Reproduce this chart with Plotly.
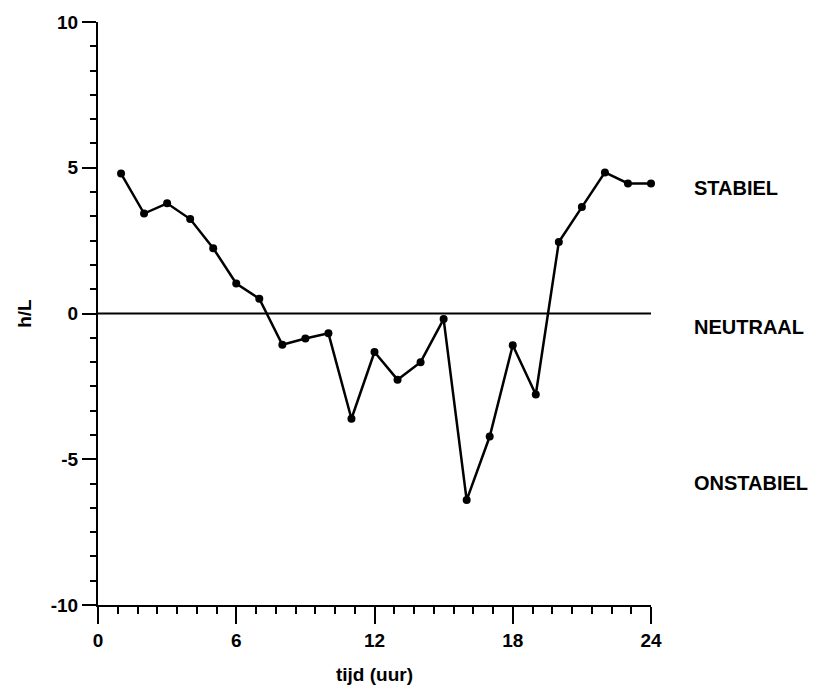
import plotly.graph_objects as go

# Hourly stability parameter h/L over one day
hours = list(range(1, 25))
h_over_l = [4.8, 3.43, 3.78, 3.24, 2.24, 1.03, 0.51, -1.07, -0.86, -0.68,
            -3.61, -1.32, -2.27, -1.67, -0.19, -6.4, -4.22, -1.09, -2.78,
            2.45, 3.65, 4.84, 4.46, 4.46]

# Neutral reference line
neutral_x = [0, 24]
neutral_y = [0, 0]

# Stability class labels on the right
class_labels = ["STABIEL", "NEUTRAAL", "ONSTABIEL"]
class_y = [4.3, -0.45, -5.8]

x_ticks = [0, 6, 12, 18, 24]
y_ticks = [-10, -5, 0, 5, 10]

FONT = "Liberation Sans, Arial, Helvetica, sans-serif"
TICK_FONT = dict(family=FONT, size=19, color="black", weight="bold")
LABEL_FONT = dict(family=FONT, size=19, color="black", weight="bold")

fig = go.Figure()

fig.add_trace(go.Scatter(
    x=neutral_x, y=neutral_y, mode="lines",
    line=dict(color="black", width=2.2), hoverinfo="skip", showlegend=False,
))

fig.add_trace(go.Scatter(
    x=hours, y=h_over_l, mode="lines+markers",
    line=dict(color="black", width=2.5),
    marker=dict(color="black", size=8, symbol="circle"),
    cliponaxis=False, showlegend=False,
))

for label, yv in zip(class_labels, class_y):
    fig.add_annotation(
        x=1.074, xref="paper", y=yv, yref="y", text=label,
        showarrow=False, xanchor="left", yanchor="middle",
        font=dict(family=FONT, size=20, color="black", weight="bold"),
    )

fig.update_xaxes(
    range=[0, 24], tickvals=x_ticks, ticktext=[str(v) for v in x_ticks],
    showline=True, linecolor="black", linewidth=2.2,
    ticks="outside", ticklen=17, tickwidth=2.2, tickcolor="black",
    minor=dict(dtick=6 / 7, tick0=0, ticks="outside", ticklen=7,
               tickwidth=1.5, tickcolor="black", showgrid=False),
    showgrid=False, zeroline=False,
    title=dict(text="tijd (uur)", standoff=18, font=LABEL_FONT),
    tickfont=TICK_FONT,
)

fig.update_yaxes(
    range=[-10, 10], tickvals=y_ticks, ticktext=[str(v) for v in y_ticks],
    showline=True, linecolor="black", linewidth=2.2,
    ticks="outside", ticklen=14, tickwidth=2.2, tickcolor="black",
    minor=dict(dtick=5 / 6, tick0=0, ticks="outside", ticklen=6,
               tickwidth=1.5, tickcolor="black", showgrid=False),
    showgrid=False, zeroline=False,
    title=dict(text="h/L", standoff=14, font=LABEL_FONT),
    tickfont=TICK_FONT,
)

fig.update_layout(
    width=818, height=693,
    margin=dict(l=98, r=167, t=22, b=88),
    paper_bgcolor="white", plot_bgcolor="white",
    font=dict(family=FONT, color="black"),
)

fig.write_html("out.html")
